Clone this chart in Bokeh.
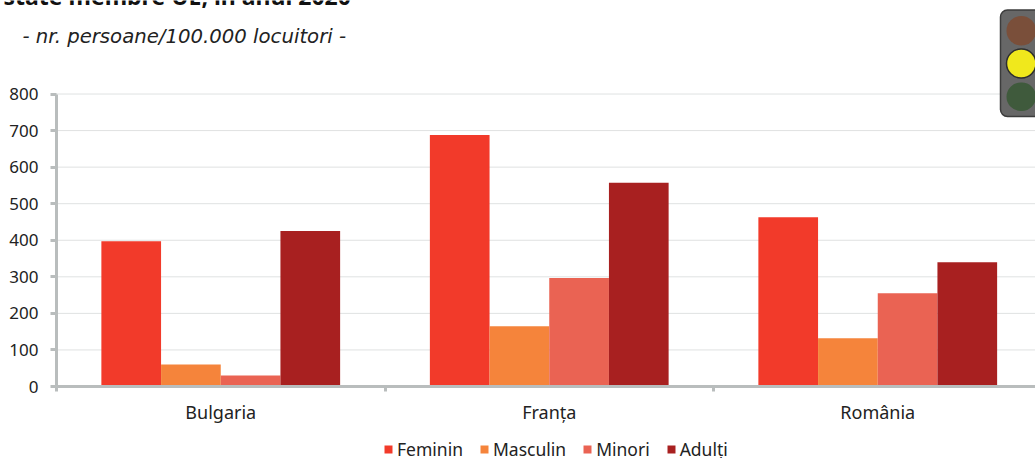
from bokeh.plotting import figure
from bokeh.models import Range1d, FixedTicker, Legend, LegendItem, Label, BoxAnnotation, ColumnDataSource, LinearAxis
from bokeh.embed import file_html
from bokeh.resources import INLINE

categories = ["Bulgaria", "Franța", "România"]
feminin = [397, 688, 463]
masculin = [60, 165, 132]
minori = [30, 297, 255]
adulti = [425, 557, 340]
series_names = ["Feminin", "Masculin", "Minori", "Adulți"]
colors = ["#f23a2a", "#f5843b", "#ea6353", "#a82020"]
y_ticks = [0, 100, 200, 300, 400, 500, 600, 700, 800]
title_text = "state membre UE, în anul 2020"
subtitle_text = "- nr. persoane/100.000 locuitori -"

W, H = 1035, 458
X0, Y0 = 56, 386
PX_PER_CAT = 328.5
PX_PER_UNIT = 0.3656
BAR = 0.1817
x_end = (W - X0) / PX_PER_CAT

p = figure(width=W, height=H, output_backend="svg", toolbar_location=None,
           x_range=Range1d(-X0 / PX_PER_CAT, x_end),
           y_range=Range1d(-(H - Y0) / PX_PER_UNIT, Y0 / PX_PER_UNIT),
           x_axis_location=None, y_axis_location=None,
           min_border_left=0, min_border_right=0, min_border_top=0, min_border_bottom=0,
           outline_line_color=None, background_fill_color="white", border_fill_color="white")
p.xgrid.visible = False
p.ygrid.visible = False

# horizontal dotted gridlines, from the plot's left edge rightward only
p.segment(x0=[0] * len(y_ticks), x1=[x_end] * len(y_ticks), y0=y_ticks, y1=y_ticks,
          line_color="#bfc3c3", line_dash="1 1", line_width=1)

centers = [i + 0.5 for i in range(len(categories))]
renderers = []
for j, (vals, col) in enumerate(zip([feminin, masculin, minori, adulti], colors)):
    src = ColumnDataSource(dict(x=[c + (j - 1.5) * BAR for c in centers], top=vals))
    renderers.append(p.vbar(x="x", top="top", bottom=0, width=BAR, source=src,
                            fill_color=col, line_color=None))

AXC = "#b9bdbd"
ya = LinearAxis(ticker=FixedTicker(ticks=y_ticks), bounds=(0, 800), fixed_location=0)
ya.axis_line_color = AXC; ya.axis_line_width = 3
ya.major_tick_line_color = AXC; ya.major_tick_line_width = 3
ya.major_tick_in = 0; ya.major_tick_out = 6
ya.minor_tick_line_color = None
ya.major_label_text_font = "Noto Sans"; ya.major_label_text_font_size = "17px"
ya.major_label_text_color = "#222222"; ya.major_label_standoff = 12
p.add_layout(ya, "left")

xa = LinearAxis(ticker=FixedTicker(ticks=centers, minor_ticks=list(range(len(categories) + 1))),
                major_label_overrides={c: n for c, n in zip(centers, categories)},
                fixed_location=0, bounds=(0, x_end))
xa.axis_line_color = AXC; xa.axis_line_width = 3
xa.major_tick_line_color = None
xa.minor_tick_line_color = AXC; xa.minor_tick_line_width = 3
xa.minor_tick_in = 0; xa.minor_tick_out = 5
xa.major_label_text_font = "Noto Sans"; xa.major_label_text_font_size = "18px"
xa.major_label_text_color = "#222222"; xa.major_label_standoff = 7
p.add_layout(xa, "below")

legend = Legend(items=[LegendItem(label=n, renderers=[r]) for n, r in zip(series_names, renderers)],
                orientation="horizontal", location=(383, -3), border_line_color=None,
                background_fill_alpha=0, glyph_width=10, glyph_height=10, label_standoff=4,
                spacing=16, padding=1, margin=0,
                label_text_font="Noto Sans", label_text_font_size="17.5px", label_text_color="#222222")
p.add_layout(legend, "center")

def box(left, right, top, bottom, fill, line=None, radius=0, lw=1.5):
    p.add_layout(BoxAnnotation(left=left, right=right, top=top, bottom=bottom,
                               left_units="canvas", right_units="canvas",
                               top_units="canvas", bottom_units="canvas",
                               fill_color=fill, fill_alpha=1, line_color=line, line_alpha=1 if line else 0,
                               line_width=lw, border_radius=radius, level="overlay"))

def label(x, y, text, font, **kw):
    p.add_layout(Label(x=x, y=y, x_units="canvas", y_units="canvas", text=text, text_baseline="alphabetic",
                       text_font=font, **kw))

# traffic light
box(1000, 1060, 9.5, 116, "#676767", "#3c3c3c", 7)
box(1006, 1035.5, 15.5, 45, "#7a4f3a", None, 15)
box(1006, 1035.5, 48.5, 77.5, "#f0e81c", "#2e2e2e", 15)
box(1006, 1035.5, 82, 110.5, "#3f5a3c", None, 15)

label(3, -5, title_text, "Noto Sans", text_font_style="bold", text_font_size="23px", text_color="#111111")
label(22, 36, subtitle_text, "DejaVu Sans", text_font_style="italic", text_font_size="19.7px", text_color="#222222")

open("out.html", "w").write(file_html(p, INLINE))
